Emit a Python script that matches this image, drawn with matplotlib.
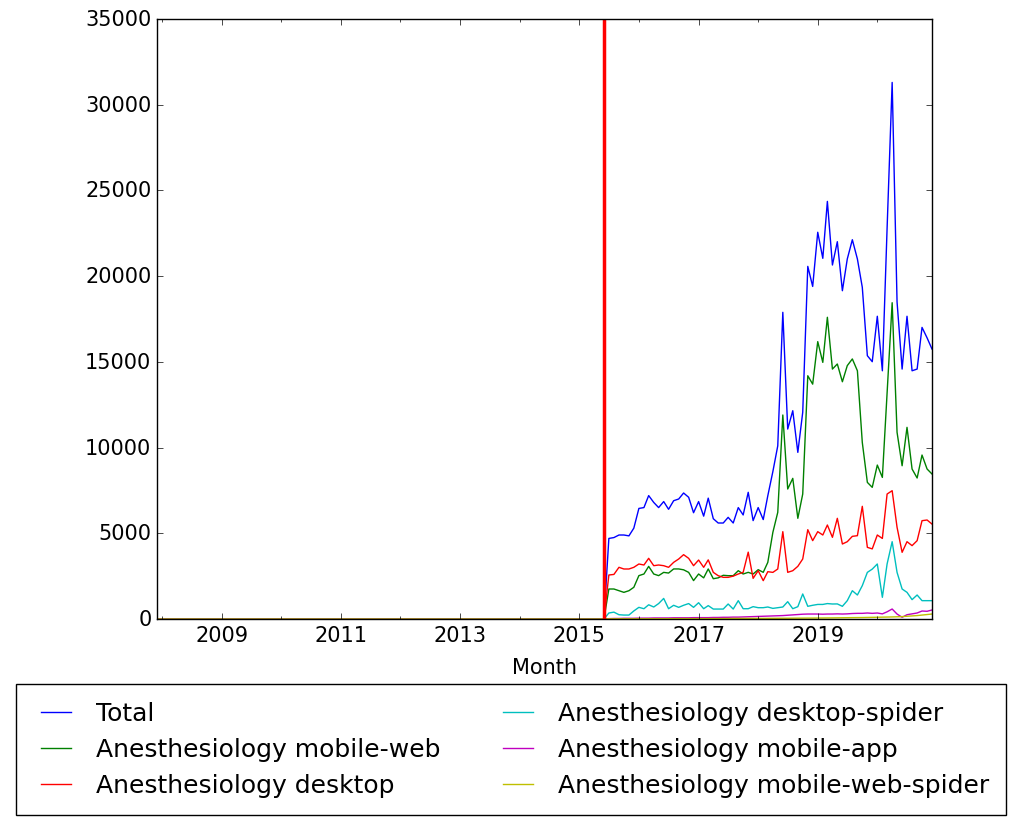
import pandas as pd
import matplotlib
matplotlib.use("Agg")
import matplotlib.pyplot as plt
import matplotlib.dates as mdates

plt.style.use("classic")

# monthly views, 2015-07 .. 2020-12 (zero before the pageviews API start)
total = [4700, 4750, 4900, 4900, 4850, 5300, 6450, 6500, 7200, 6800,
         6500, 6850, 6400, 6900, 7000, 7350, 7100, 6200, 6850, 6000,
         7050, 5850, 5600, 5600, 5930, 5600, 6500, 6070, 7390, 5740,
         6500, 5800, 7190, 8600, 10100, 17890, 11080, 12150, 9720, 12060,
         20570, 19400, 22560, 21040, 24360, 20650, 22010, 19150, 21000, 22125,
         21000, 19350, 15360, 15010, 17660, 14480, 22800, 31300, 18500, 14580,
         17660, 14480, 14580, 17010, 16400, 15750]
mobile_web = [1750, 1750, 1650, 1555, 1650, 1850, 2530, 2625, 3070, 2625,
              2530, 2720, 2680, 2920, 2920, 2870, 2720, 2240, 2625, 2400,
              2920, 2350, 2400, 2550, 2527, 2527, 2818, 2625, 2722, 2625,
              2877, 2722, 3305, 5055, 6222, 11900, 7583, 8205, 5873, 7290,
              14190, 13700, 16180, 14970, 17600, 14580, 14875, 13840, 14780, 15170,
              14480, 10300, 7970, 7680, 8980, 8260, 13220, 18450, 10890, 8940,
              11180, 8750, 8225, 9565, 8750, 8460]
desktop = [2567, 2600, 3015, 2917, 2917, 3015, 3208, 3150, 3540, 3110,
           3150, 3110, 3015, 3305, 3500, 3753, 3540, 3110, 3440, 3015,
           3450, 2722, 2527, 2430, 2430, 2500, 2625, 2722, 3900, 2372,
           2818, 2236, 2760, 2720, 2917, 5095, 2722, 2818, 3073, 3500,
           5210, 4570, 5095, 4900, 5483, 4765, 5873, 4375, 4510, 4822,
           4860, 6573, 4180, 4090, 4900, 4700, 7290, 7485, 5350, 3890,
           4510, 4280, 4570, 5735, 5775, 5540]
desktop_spider = [350, 400, 250, 230, 230, 470, 680, 600, 830, 700,
                  900, 1200, 600, 800, 680, 800, 900, 680, 950, 600,
                  780, 580, 580, 580, 875, 580, 1070, 600, 600, 720,
                  660, 660, 700, 620, 660, 700, 1010, 600, 720, 1460,
                  740, 800, 850, 850, 900, 875, 880, 740, 1070, 1650,
                  1400, 1945, 2720, 2910, 3210, 1265, 3210, 4510, 2720, 1750,
                  1555, 1130, 1400, 1070, 1070, 1070]
mobile_app = [20, 30, 30, 40, 40, 40, 50, 50, 50, 60,
              60, 60, 60, 70, 70, 70, 70, 80, 80, 80,
              80, 90, 90, 100, 100, 110, 110, 120, 130, 140,
              150, 160, 175, 180, 190, 200, 220, 240, 260, 280,
              290, 290, 290, 280, 290, 290, 300, 290, 300, 320,
              330, 330, 350, 330, 350, 300, 420, 583, 290, 100,
              250, 300, 350, 466, 450, 525]
mobile_web_spider = [10, 10, 10, 10, 10, 10, 15, 15, 15, 15,
                     15, 15, 20, 20, 20, 20, 20, 20, 20, 25,
                     25, 25, 25, 25, 30, 30, 30, 30, 30, 35,
                     35, 35, 40, 40, 40, 45, 45, 50, 50, 50,
                     55, 55, 60, 60, 60, 65, 70, 70, 75, 80,
                     80, 85, 90, 90, 95, 100, 110, 120, 130, 140,
                     160, 180, 200, 230, 260, 290]

labels = ["Total", "Anesthesiology mobile-web", "Anesthesiology desktop",
          "Anesthesiology desktop-spider", "Anesthesiology mobile-app",
          "Anesthesiology mobile-web-spider"]
colors = ["b", "g", "r", "c", "m", "y"]

months = pd.date_range("2007-12-01", "2020-12-01", freq="MS")
n_pre = len(months) - len(total)

fig = plt.figure(figsize=(10.16, 8.2), dpi=100, facecolor="white")
ax = fig.add_axes([0.1545, 0.2439, 0.7628, 0.7317])

for vals, lab, col in zip([total, mobile_web, desktop, desktop_spider, mobile_app, mobile_web_spider],
                          labels, colors):
    ax.plot(months, [0] * n_pre + vals, color=col, lw=1.0, label=lab)

ax.axvline(pd.Timestamp("2015-06-01"), color="red", lw=2.5)

ax.set_xlim(months[0], months[-1])
ax.set_ylim(0, 35000)
ax.set_yticks(range(0, 35001, 5000))
ax.set_xticks([pd.Timestamp(f"{y}-01-01") for y in range(2009, 2020, 2)])
ax.set_xticks([pd.Timestamp(f"{y}-01-01") for y in range(2008, 2021)], minor=True)
ax.xaxis.set_major_formatter(mdates.DateFormatter("%Y"))
ax.tick_params(labelsize=15)
ax.set_xlabel("Month", fontsize=15, labelpad=9)

fig.legend(loc="upper center", bbox_to_anchor=(0.503, 1 - 685 / 820), ncol=2,
           fontsize=18, fancybox=False, frameon=True, handlelength=1.8,
           handletextpad=0.7, columnspacing=2.2, labelspacing=0.48,
           borderpad=0.7, borderaxespad=0.0)

fig.savefig("out.png", dpi=100, facecolor="white")
